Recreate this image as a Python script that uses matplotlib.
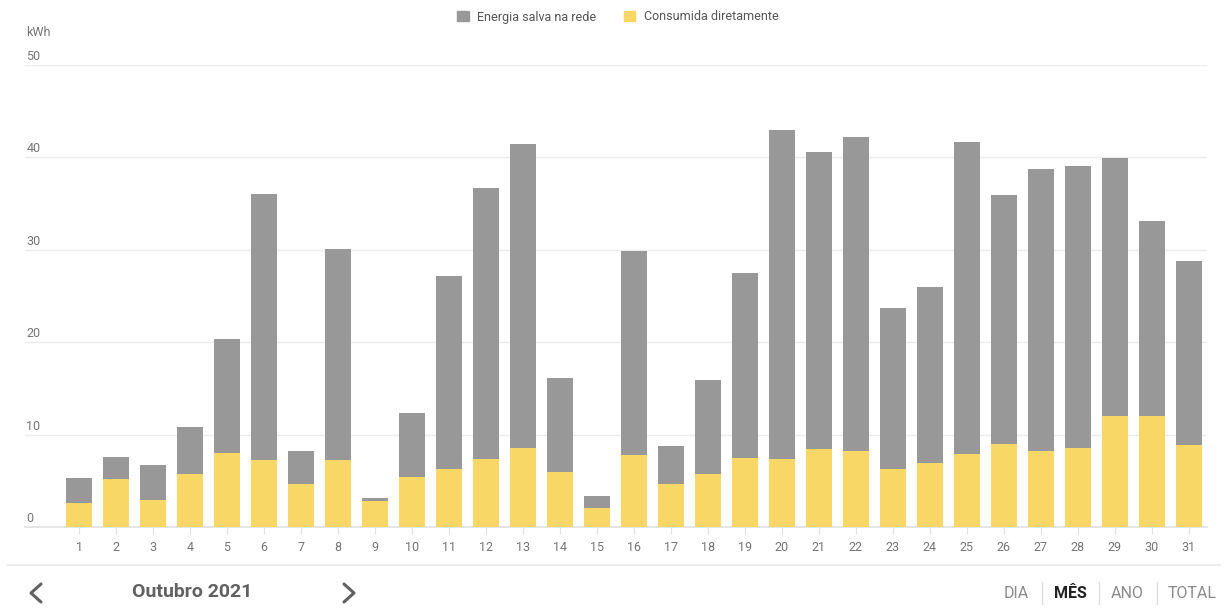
import matplotlib
matplotlib.use('Agg')
import matplotlib.pyplot as plt
from matplotlib.patches import Patch
from matplotlib.lines import Line2D
import numpy as np

plt.rcParams['font.family'] = ['Roboto', 'DejaVu Sans']

# dados (kWh por dia, outubro 2021)
dias = [str(d) for d in range(1, 32)]
consumida = [2.6, 5.2, 2.9, 5.7, 8.0, 7.3, 4.7, 7.3, 2.8, 5.4,
             6.3, 7.4, 8.55, 5.9, 2.1, 7.8, 4.6, 5.7, 7.5, 7.4,
             8.45, 8.2, 6.3, 6.9, 7.9, 9.0, 8.2, 8.55, 12.0, 12.0, 8.9]
total = [5.3, 7.6, 6.7, 10.8, 20.3, 36.0, 8.2, 30.1, 3.1, 12.3,
         27.2, 36.7, 41.4, 16.1, 3.4, 29.9, 8.8, 15.9, 27.5, 43.0,
         40.6, 42.2, 23.7, 26.0, 41.7, 35.9, 38.7, 39.1, 39.9, 33.1, 28.8]
rede = [t - c for t, c in zip(total, consumida)]
yticks = [0, 10, 20, 30, 40, 50]

cor_rede = '#989898'
cor_cons = '#f9d767'
cor_txt = '#757575'

W, H = 1230, 610
fig = plt.figure(figsize=(W / 100, H / 100), dpi=100)
ax = fig.add_axes([25 / W, (H - 527) / H, (1207 - 25) / W, (527 - 65) / H])

x = np.arange(len(dias))
ax.bar(x, consumida, width=0.7, color=cor_cons, zorder=3)
ax.bar(x, rede, width=0.7, bottom=consumida, color=cor_rede, zorder=3)

ax.set_xlim(-1.46, 30.49)
ax.set_ylim(0, 50)
for s in ['top', 'right', 'left']:
    ax.spines[s].set_visible(False)
ax.spines['bottom'].set_color('#e0e0e0')
ax.spines['bottom'].set_linewidth(1.2)

ax.set_yticks(yticks)
ax.set_yticklabels([])
ax.tick_params(axis='y', length=0)
ax.grid(axis='y', color='#ececec', linewidth=1, zorder=0)
for v in yticks:
    ax.annotate(str(v), xy=(0, v), xycoords=ax.get_yaxis_transform(),
                xytext=(1, 1.5), textcoords='offset points',
                ha='left', va='bottom', fontsize=9, color=cor_txt)

ax.set_xticks(x)
ax.set_xticklabels(dias, fontsize=9, color=cor_txt)
ax.tick_params(axis='x', length=5, color='#e0e0e0', pad=5)

fig.text(26 / W, 1 - 33 / H, 'kWh', fontsize=9, color=cor_txt, ha='left', va='center')

handles = [Patch(color=cor_rede, label='Energia salva na rede'),
           Patch(color=cor_cons, label='Consumida diretamente')]
fig.legend(handles=handles, loc='center', bbox_to_anchor=(618 / W, 1 - 17 / H),
           ncol=2, frameon=False, fontsize=9, handlelength=0.9, handleheight=0.9,
           columnspacing=2.2, handletextpad=0.7, labelcolor='#555555')

# barra de navegação inferior
fig.add_artist(Line2D([8 / W, 1220 / W], [1 - 565 / H, 1 - 565 / H],
                      transform=fig.transFigure, color='#e8e8e8', linewidth=1.2))
fig.text(192 / W, 1 - 592 / H, 'Outubro 2021', fontsize=14, fontweight='bold',
         color='#616161', ha='center', va='center')
for cx, d in [(36, -1), (349, 1)]:
    fig.add_artist(Line2D([(cx - d * 5) / W, (cx + d * 5) / W, (cx - d * 5) / W],
                          [1 - 584 / H, 1 - 593 / H, 1 - 602 / H],
                          transform=fig.transFigure, color='#616161', linewidth=2.2,
                          solid_capstyle='round'))

opcoes = [('DIA', 1016, 'normal', '#8a8a8a'), ('MÊS', 1070, 'bold', '#222222'),
          ('ANO', 1127, 'normal', '#8a8a8a'), ('TOTAL', 1192, 'normal', '#8a8a8a')]
for txt, cx, wt, c in opcoes:
    fig.text(cx / W, 1 - 593 / H, txt, fontsize=11.5, fontweight=wt, color=c,
             ha='center', va='center')
for sx in [1042, 1099, 1157]:
    fig.add_artist(Line2D([sx / W, sx / W], [1 - 582 / H, 1 - 604 / H],
                          transform=fig.transFigure, color='#dddddd', linewidth=1))

fig.savefig('out.png', dpi=100, facecolor='white')
